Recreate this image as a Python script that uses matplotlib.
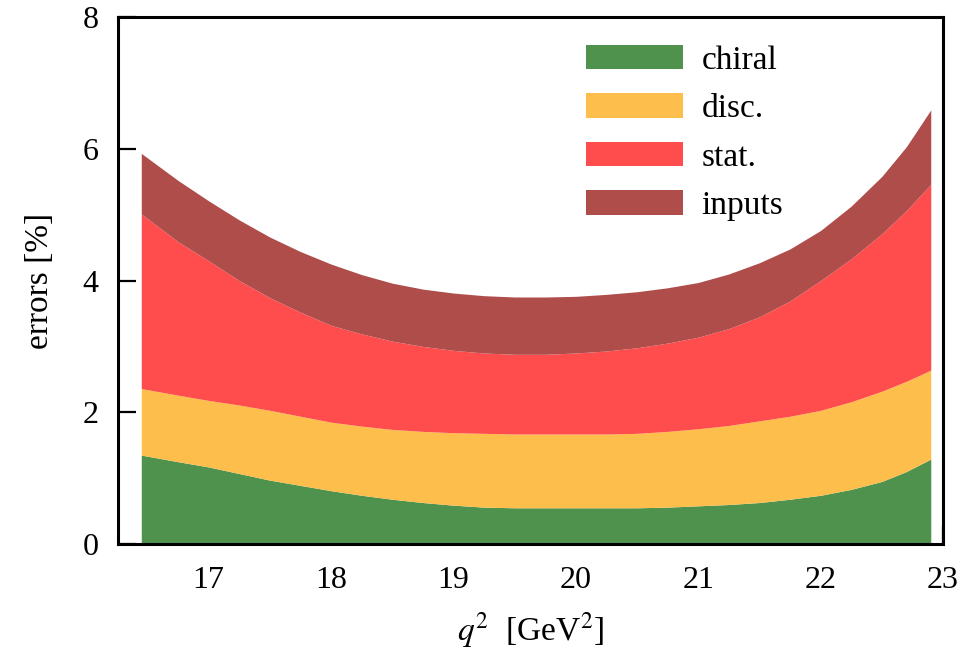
import numpy as np
import matplotlib
matplotlib.use("Agg")
import matplotlib.pyplot as plt

# q^2 grid [GeV^2] and the individual error contributions [%]
q2 = [16.45, 16.75, 17.0, 17.25, 17.5, 17.75, 18.0, 18.25, 18.5, 18.75,
      19.0, 19.25, 19.5, 19.75, 20.0, 20.25, 20.5, 20.75, 21.0, 21.25,
      21.5, 21.75, 22.0, 22.25, 22.5, 22.7, 22.9]
err_chiral = [1.35, 1.25, 1.17, 1.07, 0.97, 0.89, 0.81, 0.74, 0.68, 0.63,
              0.59, 0.56, 0.55, 0.55, 0.55, 0.55, 0.55, 0.56, 0.58, 0.60,
              0.63, 0.68, 0.74, 0.83, 0.95, 1.10, 1.29]
err_disc = [1.01, 1.01, 1.01, 1.04, 1.06, 1.05, 1.04, 1.05, 1.06, 1.08,
            1.10, 1.12, 1.12, 1.12, 1.12, 1.12, 1.13, 1.15, 1.17, 1.20,
            1.24, 1.26, 1.29, 1.33, 1.37, 1.37, 1.35]
err_stat = [2.65, 2.33, 2.12, 1.89, 1.71, 1.58, 1.47, 1.40, 1.34, 1.29,
            1.25, 1.22, 1.21, 1.21, 1.23, 1.26, 1.30, 1.34, 1.39, 1.47,
            1.58, 1.75, 1.97, 2.17, 2.39, 2.59, 2.82]
err_inputs = [0.92, 0.93, 0.91, 0.92, 0.92, 0.92, 0.93, 0.90, 0.88, 0.87,
              0.87, 0.87, 0.87, 0.87, 0.86, 0.86, 0.85, 0.84, 0.83, 0.83,
              0.82, 0.79, 0.76, 0.80, 0.87, 0.97, 1.13]

labels = ["chiral", "disc.", "stat.", "inputs"]
colors = ["#4f924e", "#fdbe4c", "#ff4c4c", "#af4d4b"]

x_ticks = [17, 18, 19, 20, 21, 22, 23]
y_ticks = [0, 2, 4, 6, 8]


def main():
    plt.rcParams["font.family"] = ["Liberation Serif", "DejaVu Serif"]
    plt.rcParams["mathtext.fontset"] = "stix"

    fig = plt.figure(figsize=(9.65, 6.52), dpi=100)
    ax = fig.add_axes([0.1223, 0.1656, 0.8549, 0.8083])

    x = np.array(q2)
    parts = np.array([err_chiral, err_disc, err_stat, err_inputs])
    tops = np.cumsum(parts, axis=0)
    bottoms = np.vstack([np.zeros_like(x), tops[:-1]])

    # stacked bands, each one sits on top of the previous contribution
    for lo, hi, c, lab in zip(bottoms, tops, colors, labels):
        ax.fill_between(x, lo, hi, color=c, lw=0, label=lab)

    ax.set_xlim(16.26, 22.97)
    ax.set_ylim(0, 8)
    ax.set_xticks(x_ticks)
    ax.set_yticks(y_ticks)
    ax.set_axisbelow(True)
    ax.tick_params(direction="in", length=13, width=1.6, labelsize=23,
                   top=False, right=False)
    ax.tick_params(axis="x", pad=16)
    ax.tick_params(axis="y", pad=14)
    for sp in ax.spines.values():
        sp.set_linewidth(2.2)

    ax.set_xlabel("$q^2$  [GeV$^2$]", fontsize=24, labelpad=11)
    ax.set_ylabel("errors [%]", fontsize=24, labelpad=20)

    ax.legend(loc="upper left", bbox_to_anchor=(0.567, 0.947),
              frameon=False, borderpad=0, borderaxespad=0,
              handlelength=2.91, handleheight=0.75, handletextpad=0.57,
              labelspacing=0.53, fontsize=24)

    fig.savefig("out.png", dpi=100)
    plt.close(fig)


if __name__ == "__main__":
    main()
